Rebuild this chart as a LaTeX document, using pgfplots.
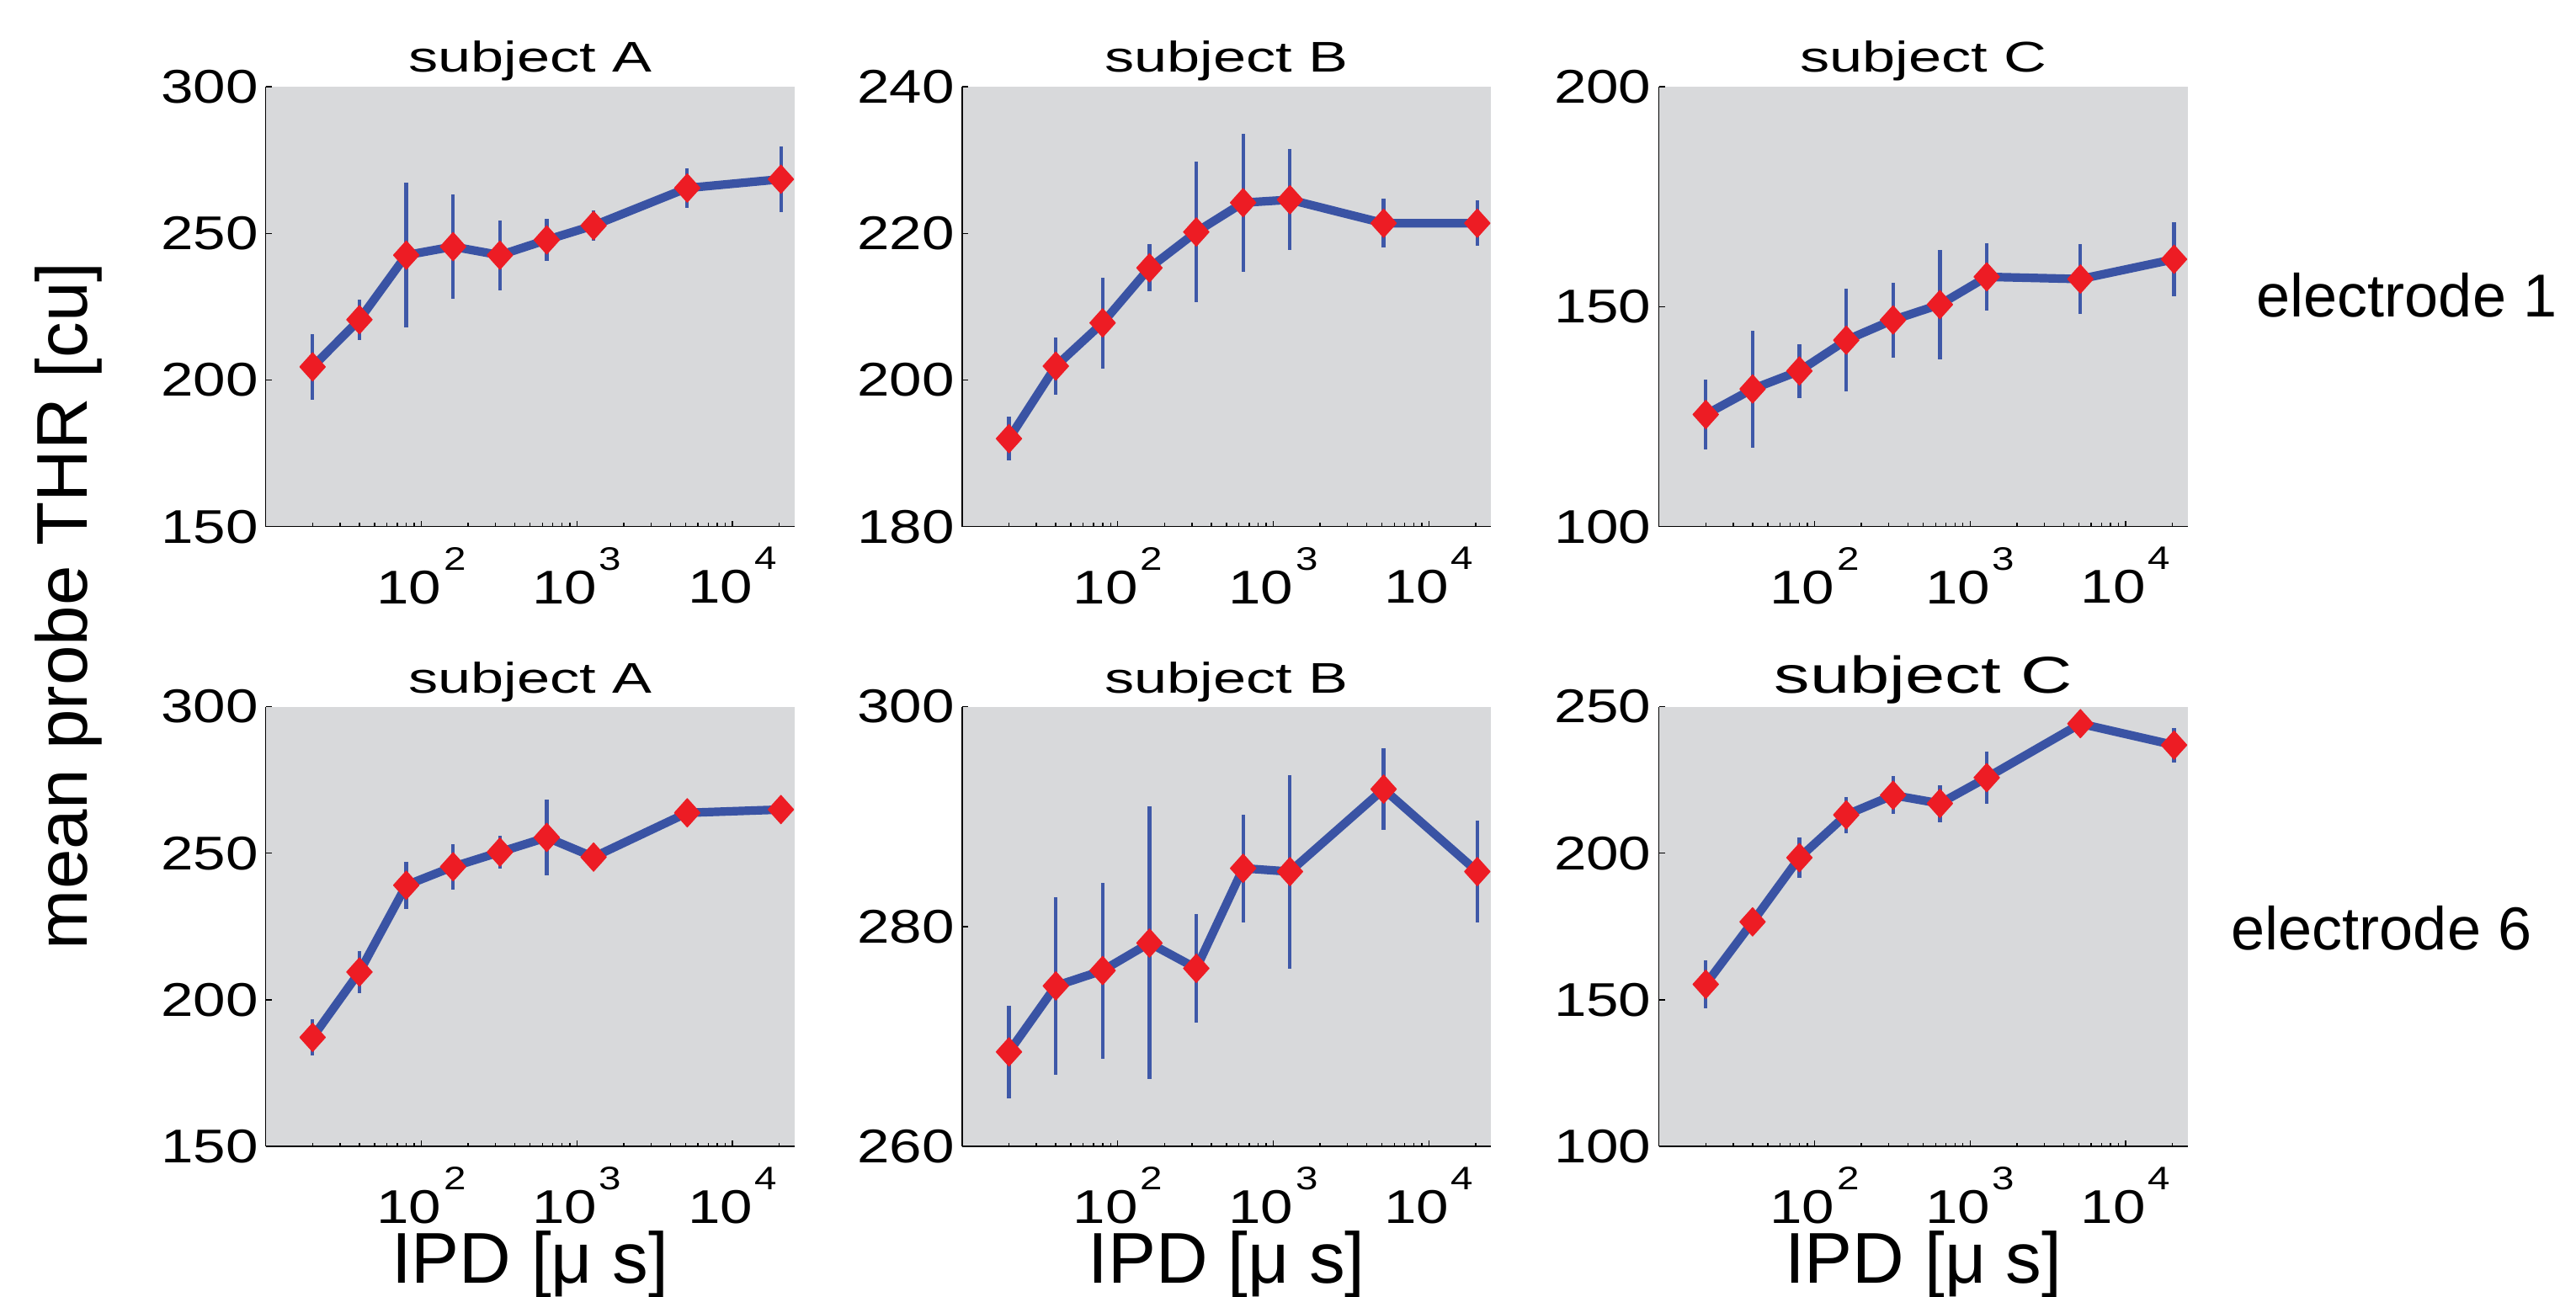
\documentclass[border=0pt]{standalone}
\usepackage{fontspec}
\setmainfont{Liberation Sans}
\newfontfamily\tickf{Liberation Sans}[FakeStretch=1.23]
\newfontfamily\titf{Liberation Sans}[FakeStretch=1.38]
\usepackage{pgfplots}
\pgfplotsset{compat=1.18}
\usepackage{pgfplotstable}

\definecolor{bggray}{RGB}{216,217,219}
\definecolor{lineblue}{RGB}{58,83,164}
\definecolor{barblue}{RGB}{62,88,168}
\definecolor{dred}{RGB}{237,28,36}

\newcommand\expo[1]{\kern0.8pt\raisebox{11.4pt}{\fontsize{11}{12}\selectfont#1}}

% electrode 1
\pgfplotstableread{
x y e
20 204.5 11.2
40 220.6 6.9
80 242.6 24.6
160 245.5 17.8
320 242.6 11.9
640 247.8 7.1
1280 252.7 5.3
5120 265.5 6.8
20480 268.5 11.1
}\tA
\pgfplotstableread{
x y e
20 192.0 3.0
40 201.9 3.9
80 207.8 6.2
160 215.3 3.2
320 220.2 9.6
640 224.2 9.4
1280 224.6 6.9
5120 221.4 3.3
20480 221.4 3.1
}\tB
\pgfplotstableread{
x y e
20 125.5 8.0
40 131.3 13.3
80 135.4 6.1
160 142.4 11.7
320 147.0 8.5
640 150.5 12.4
1280 156.8 7.6
5120 156.3 7.9
20480 160.8 8.5
}\tC
% electrode 6
\pgfplotstableread{
x y e
20 187.2 6.3
40 209.5 7.2
80 239.1 8.0
160 245.4 7.7
320 250.4 5.5
640 255.4 13.0
1280 248.7 2.5
5120 263.8 4.5
20480 264.9 4.2
}\tD
\pgfplotstableread{
x y e
20 268.6 4.2
40 274.6 8.1
80 276.0 8.0
160 278.5 12.4
320 276.2 4.9
640 285.3 4.9
1280 285.0 8.8
5120 292.5 3.7
20480 285.0 4.6
}\tE
\pgfplotstableread{
x y e
20 155.3 8.3
40 176.6 2.5
80 198.5 6.8
160 213.1 6.2
320 219.8 6.5
640 217.0 6.3
1280 225.8 8.8
5120 244.2 3.0
20480 236.9 5.9
}\tF

\pgfplotsset{
  every axis/.append style={
    scale only axis, width=62.83mm, height=52.25mm,
    anchor=north west,
    xmode=log, xmin=10, xmax=25119,
    axis x line*=bottom, axis y line*=left,
    axis background/.style={fill=bggray},
    axis line style={black, line width=0.45pt},
    tick align=inside, major tick length=2pt, minor tick length=1.2pt,
    tick style={black, line width=0.4pt},
    xtick={100,1000,10000},
    xticklabels={{10\expo{2}},{10\expo{3}},{10\expo{4}}},
    minor xtick={20,30,40,50,60,70,80,90,200,300,400,500,600,700,800,900,
      2000,3000,4000,5000,6000,7000,8000,9000,20000},
    tick label style={font=\tickf\fontsize{16}{18}\selectfont, inner sep=0pt},
    xticklabel style={anchor=north, yshift=-6.8pt},
    yticklabel style={anchor=east, xshift=-2.4pt,
      /pgf/number format/assume math mode=true},
    clip=false,
  },
  thrline/.style={line width=2.9pt, lineblue, line join=round,
    mark=diamond*, mark size=4.8pt,
    mark options={solid, draw=dred, fill=dred, line width=0.3pt, xscale=1.2}},
  thrbars/.style={draw=none, mark=none, forget plot,
    error bars/y dir=both, error bars/y explicit, error bars/error mark=none,
    error bars/error bar style={draw=barblue, line width=1.2pt}},
}

\begin{document}
\begin{tikzpicture}
\path[use as bounding box] (0,0) rectangle (306mm,154mm);

\begin{axis}[at={(31.57mm,143.68mm)},
  ymin=150, ymax=300, ytick={150,200,250,300}]
\addplot[thrline] table[x=x,y=y] {\tA};
\addplot[thrbars] table[x=x,y=y,y error=e] {\tA};
\end{axis}

\begin{axis}[at={(114.29mm,143.68mm)},
  ymin=180, ymax=240, ytick={180,200,220,240}]
\addplot[thrline] table[x=x,y=y] {\tB};
\addplot[thrbars] table[x=x,y=y,y error=e] {\tB};
\end{axis}

\begin{axis}[at={(197.06mm,143.68mm)},
  ymin=100, ymax=200, ytick={100,150,200}]
\addplot[thrline] table[x=x,y=y] {\tC};
\addplot[thrbars] table[x=x,y=y,y error=e] {\tC};
\end{axis}

\begin{axis}[at={(31.57mm,70.04mm)},
  ymin=150, ymax=300, ytick={150,200,250,300}]
\addplot[thrline] table[x=x,y=y] {\tD};
\addplot[thrbars] table[x=x,y=y,y error=e] {\tD};
\end{axis}

\begin{axis}[at={(114.29mm,70.04mm)},
  ymin=260, ymax=300, ytick={260,280,300}]
\addplot[thrline] table[x=x,y=y] {\tE};
\addplot[thrbars] table[x=x,y=y,y error=e] {\tE};
\end{axis}

\begin{axis}[at={(197.06mm,70.04mm)},
  ymin=100, ymax=250, ytick={100,150,200,250}]
\addplot[thrline] table[x=x,y=y] {\tF};
\addplot[thrbars] table[x=x,y=y,y error=e] {\tF};
\end{axis}

% panel titles
\tikzset{ttl/.style={anchor=base, inner sep=0pt, font=\titf\fontsize{14.5}{16}\selectfont}}
\node[ttl] at (62.98mm,145.4mm) {subject A};
\node[ttl] at (145.70mm,145.4mm) {subject B};
\node[ttl] at (228.48mm,145.4mm) {subject C};
\node[ttl] at (62.98mm,71.7mm) {subject A};
\node[ttl] at (145.70mm,71.7mm) {subject B};
\node[ttl, font=\titf\fontsize{17.5}{19}\selectfont] at (228.48mm,71.7mm) {subject C};

% shared labels
\node[rotate=90, anchor=base, inner sep=0pt, font=\fontsize{24.3}{28}\selectfont]
  at (10.33mm,82.02mm) {mean probe THR [cu]};
\foreach \cx in {62.98,145.70,228.48}
  \node[anchor=base, inner sep=0pt, font=\fontsize{24.3}{28}\selectfont]
    at (\cx mm,1.6mm) {IPD [μ s]};
\node[anchor=base west, inner sep=0pt, font=\fontsize{20.5}{24}\selectfont]
  at (268.0mm,116.33mm) {electrode 1};
\node[anchor=base west, inner sep=0pt, font=\fontsize{20.5}{24}\selectfont]
  at (265.0mm,41.17mm) {electrode 6};
\end{tikzpicture}
\end{document}
